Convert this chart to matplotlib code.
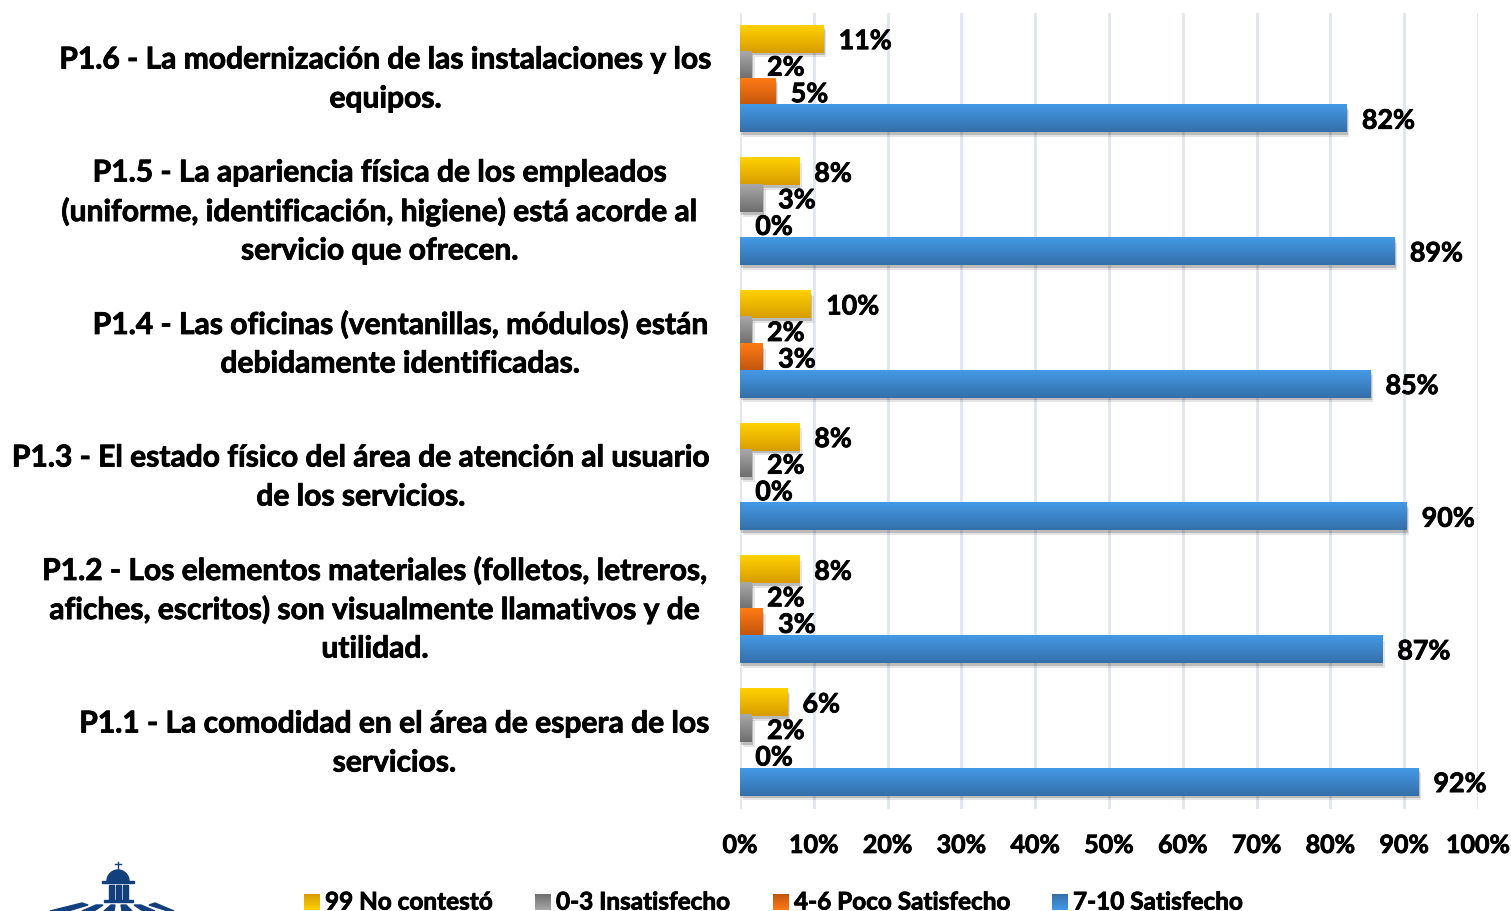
import numpy as np
import matplotlib
matplotlib.use('Agg')
import matplotlib.pyplot as plt
import matplotlib.patheffects as pe
from matplotlib.colors import LinearSegmentedColormap
from matplotlib.patches import Rectangle, Polygon, Wedge

plt.rcParams['font.family'] = ['Lato', 'DejaVu Sans']
plt.rcParams['font.weight'] = 'bold'

# P1.1 abajo, P1.6 arriba
categorias = ['P1.1', 'P1.2', 'P1.3', 'P1.4', 'P1.5', 'P1.6']
no_contesto = [6.4, 8.0, 8.0, 9.6, 8.0, 11.3]
insatisfecho = [1.6, 1.6, 1.6, 1.6, 3.1, 1.6]
poco_satisfecho = [0, 3.1, 0, 3.1, 0, 4.8]
satisfecho = [91.9, 87.0, 90.3, 85.4, 88.7, 82.2]

nombres = ['99 No contestó', '0-3 Insatisfecho', '4-6 Poco Satisfecho', '7-10 Satisfecho']
ticks = [0, 10, 20, 30, 40, 50, 60, 70, 80, 90, 100]

preguntas = [
    ['P1.1 - La comodidad en el área de espera de los', 'servicios.'],
    ['P1.2 - Los elementos materiales (folletos, letreros,', 'afiches, escritos) son visualmente llamativos y de', 'utilidad.'],
    ['P1.3 - El estado físico del área de atención al usuario', 'de los servicios.'],
    ['P1.4 - Las oficinas (ventanillas, módulos) están', 'debidamente identificadas.'],
    ['P1.5 - La apariencia física de los empleados', '(uniforme, identificación, higiene) está acorde al', 'servicio que ofrecen.'],
    ['P1.6 - La modernización de las instalaciones y los', 'equipos.'],
]
pregunta_x = [394.5, 375, 361, 400.5, 380, 385.5]
pregunta_y = [721, 568, 455, 322, 170, 57]

# (arriba, abajo) de cada degradado
colores = [('#ffd200', '#d89c00'), ('#a8a8a8', '#6e6e6e'), ('#ff7b14', '#c2550e'), ('#4499e6', '#3470aa')]
W, H = 1511, 911

# Lato bold es algo mas fino que la fuente original
grueso = [pe.withStroke(linewidth=0.6, foreground='black')]


def degradado(eje, x0, x1, y0, y1, par, z):
    cmap = LinearSegmentedColormap.from_list('g', par)
    eje.imshow(np.linspace(0, 1, 64).reshape(-1, 1), extent=(x0, x1, y0, y1), origin='lower' if y1 < y0 else 'upper',
               aspect='auto', cmap=cmap, zorder=z)


fig = plt.figure(figsize=(W / 100, H / 100), dpi=100)
ax = fig.add_axes([740 / W, 1 - 808.5 / H, (1478 - 740) / W, (808.5 - 12.5) / H])

y = np.arange(len(categorias))
series = [no_contesto, insatisfecho, poco_satisfecho, satisfecho]
offsets = [0.3, 0.1, -0.1, -0.3]
alto = 0.205

sombra = [pe.SimplePatchShadow(offset=(2, -3.5), alpha=0.10, shadow_rgbFace='black'),
          pe.SimplePatchShadow(offset=(1, -2), alpha=0.18, shadow_rgbFace='black'),
          pe.Normal()]

for vals, off, par in zip(series, offsets, colores):
    bars = ax.barh(y + off, vals, height=alto, color=par[1], zorder=3)
    for b, v in zip(bars, vals):
        if v > 0:
            b.set_path_effects(sombra)
            degradado(ax, 0, v, b.get_y(), b.get_y() + alto, par, 4)
        ax.annotate(f'{v:.0f}%', (v, b.get_y() + alto / 2), xytext=(11, -1.5), textcoords='offset points',
                    va='center', ha='left', fontsize=19.3, color='black', zorder=5, path_effects=grueso)

ax.set_xlim(0, 100)
ax.set_ylim(-0.5, 5.5)
ax.set_yticks([])
ax.set_xticks(ticks)
ax.set_xticklabels([f'{t}%' for t in ticks], fontsize=18, path_effects=grueso)
ax.tick_params(axis='x', length=0, pad=18.3)
ax.grid(axis='x', color='#e0e5ee', linewidth=2, zorder=0)
ax.set_axisbelow(True)
for s in ax.spines.values():
    s.set_visible(False)
ax.patch.set_alpha(0)

# capa en pixeles para preguntas, leyenda y logo
ov = fig.add_axes([0, 0, 1, 1], zorder=-1)
ov.set_xlim(0, W)
ov.set_ylim(H, 0)
ov.axis('off')

for lineas, px, py in zip(preguntas, pregunta_x, pregunta_y):
    for i, linea in enumerate(lineas):
        ov.text(px, py + i * 39, linea, ha='center', va='center_baseline', fontsize=21.6, color='black',
                path_effects=grueso)

sw_x = [304, 535, 773, 1052]
for nombre, sx, par in zip(nombres, sw_x, colores):
    degradado(ov, sx, sx + 16, 894, 910, par, 3)
    ov.text(sx + 21, 902, nombre, ha='left', va='center', fontsize=17.5, color='black', path_effects=grueso)

# logo, cortado por el borde inferior
azul = '#12407f'
ov.plot([118, 118], [862, 870], color=azul, lw=1)
ov.plot([115, 121], [864, 864], color=azul, lw=1)
ov.add_patch(Wedge((118, 881), 11, 180, 360, color=azul))
ov.add_patch(Rectangle((102, 881), 32, 2, color=azul))
for cx in [109, 116, 123]:
    ov.add_patch(Rectangle((cx, 885), 5, 15, color=azul))
ov.add_patch(Rectangle((104, 900), 29, 2, color=azul))
for pts in [[(50, 911), (82, 903), (88, 905), (68, 911)],
            [(82, 911), (96, 905), (103, 905), (94, 911)],
            [(104, 911), (111, 905), (115, 905), (114, 911)],
            [(122, 911), (121, 905), (126, 905), (132, 911)],
            [(143, 911), (134, 905), (141, 905), (155, 911)],
            [(168, 911), (149, 905), (155, 903), (174, 911)]]:
    ov.add_patch(Polygon(pts, closed=True, color=azul))

fig.savefig('out.png', dpi=100)
